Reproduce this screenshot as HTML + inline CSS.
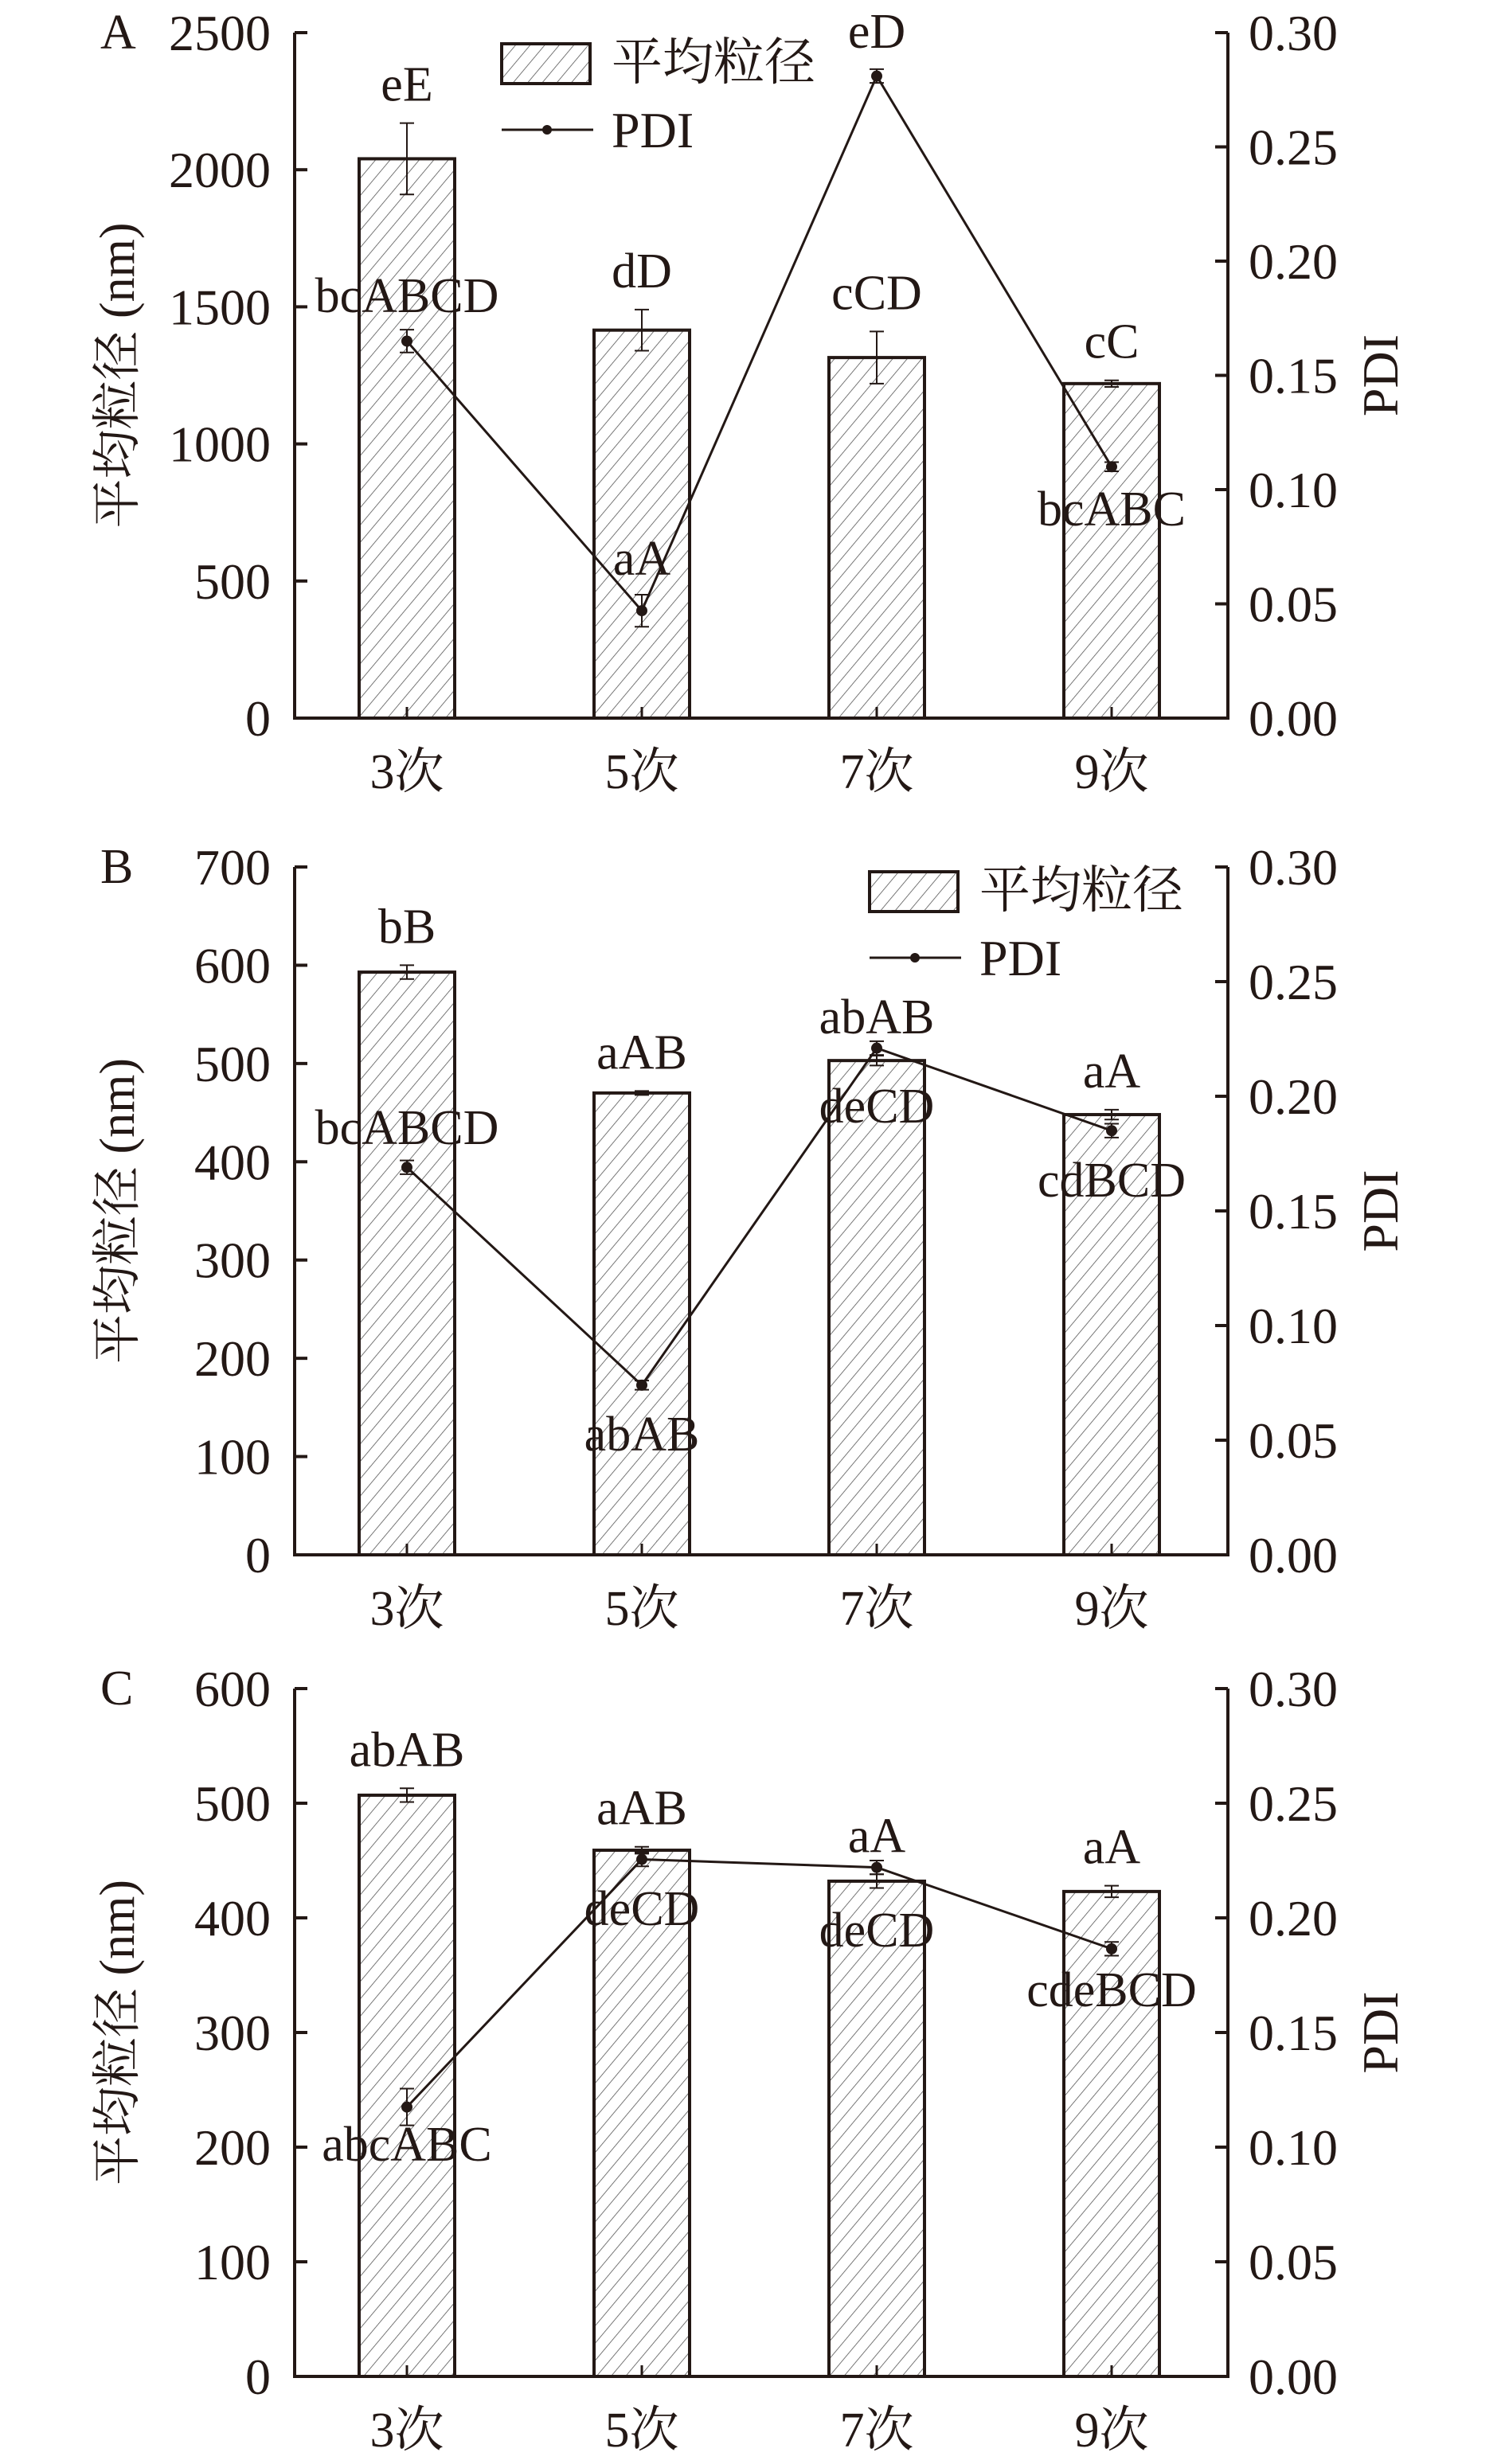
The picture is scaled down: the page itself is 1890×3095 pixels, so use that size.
<!DOCTYPE html>
<html><head><meta charset="utf-8">
<style>
html,body{margin:0;padding:0;background:#fff;}
svg{display:block;}
text{font-family:"Liberation Serif","Noto Serif CJK SC",serif;fill:#231815;}
</style></head>
<body>
<svg id="chart" width="1890" height="3095" viewBox="0 0 1890 3095" xmlns="http://www.w3.org/2000/svg">
<defs>
<pattern id="hatch" patternUnits="userSpaceOnUse" width="14" height="14" patternTransform="rotate(40)">
<line x1="0" y1="0" x2="0" y2="14" stroke="#555" stroke-width="1.6"/>
</pattern>
</defs>
</svg>
<script>
const categories = ["3次","5次","7次","9次"];
// Panel A
const sizeA = [2040,1415,1315,1220];
const sizeErrA = [130,75,95,12];
const pdiA = [0.165,0.047,0.281,0.110];
const pdiErrA = [0.005,0.007,0.003,0.002];
const sizeLabelsA = ["eE","dD","cCD","cC"];
const pdiLabelsA = ["bcABCD","aA","eD","bcABC"];
const ticksA = [0,500,1000,1500,2000,2500];
// Panel B
const sizeB = [593,470,503,448];
const sizeErrB = [7,2,5,5];
const pdiB = [0.169,0.074,0.221,0.185];
const pdiErrB = [0.003,0.002,0.003,0.003];
const sizeLabelsB = ["bB","aAB","abAB","aA"];
const pdiLabelsB = ["bcABCD","abAB","deCD","cdBCD"];
const ticksB = [0,100,200,300,400,500,600,700];
// Panel C
const sizeC = [507,459,432,423];
const sizeErrC = [6,3,6,5];
const pdiC = [0.1175,0.2255,0.222,0.1865];
const pdiErrC = [0.008,0.003,0.003,0.003];
const sizeLabelsC = ["abAB","aAB","aA","aA"];
const pdiLabelsC = ["abcABC","deCD","deCD","cdeBCD"];
const ticksC = [0,100,200,300,400,500,600];
const pdiTicks = [0,0.05,0.10,0.15,0.20,0.25,0.30];

const svg = document.getElementById('chart');
const NS = 'http://www.w3.org/2000/svg';
function mk(tag, attrs, parent){
  const e = document.createElementNS(NS, tag);
  for (const k in attrs) e.setAttribute(k, attrs[k]);
  (parent||svg).appendChild(e);
  return e;
}
function txt(str, x, y, size, anchor, parent){
  const t = mk('text', {x:x, y:y, 'font-size':size, 'text-anchor':anchor||'middle'}, parent);
  t.textContent = str;
  return t;
}
const L = 370, R = 1542, barW = 120;
function xPos(i){ return 511 + i*295; }

function panel(cfg){
  const g = mk('g', {});
  
  
  const top = cfg.top, bot = cfg.bot, max = cfg.ticks[cfg.ticks.length-1];
  const yS = v => bot - (v/max)*(bot-top);
  const yP = v => bot - (v/0.30)*(bot-top);
  // bars
  cfg.size.forEach((v,i)=>{
    const b = mk('rect', {x:xPos(i)-barW/2, y:yS(v), width:barW, height:bot-yS(v), fill:'url(#hatch)', stroke:'#231815', 'stroke-width':4}, g);
    
    
    const e1 = yS(v+cfg.sizeErr[i]), e2 = yS(v-cfg.sizeErr[i]);
    const eb = mk('path', {d:`M${xPos(i)} ${e1}V${e2}M${xPos(i)-9} ${e1}H${xPos(i)+9}M${xPos(i)-9} ${e2}H${xPos(i)+9}`, stroke:'#231815', 'stroke-width':2, fill:'none'}, g);
    
    
    const lab = txt(cfg.sizeLabels[i], xPos(i), e1 - 28 + (cfg.sizeLabelDy ? cfg.sizeLabelDy[i] : 0), 62, 'middle', g);
    
    
  });
  // PDI line
  let d = '';
  cfg.pdi.forEach((v,i)=>{ d += (i?'L':'M') + xPos(i) + ' ' + yP(v); });
  const line = mk('path', {d:d, stroke:'#231815', 'stroke-width':3, fill:'none'}, g);
  
  
  cfg.pdi.forEach((v,i)=>{
    const e1 = yP(v+cfg.pdiErr[i]), e2 = yP(v-cfg.pdiErr[i]);
    const eb = mk('path', {d:`M${xPos(i)} ${e1}V${e2}M${xPos(i)-9} ${e1}H${xPos(i)+9}M${xPos(i)-9} ${e2}H${xPos(i)+9}`, stroke:'#231815', 'stroke-width':2, fill:'none'}, g);
    
    
    const p = mk('circle', {cx:xPos(i), cy:yP(v), r:7, fill:'#231815'}, g);
    
    
    const lab = txt(cfg.pdiLabels[i], xPos(i), cfg.pdiLabelY[i], 62, 'middle', g);
    
    
  });
  // axes
  const ax = mk('path', {d:`M${L} ${top}V${bot}H${R}V${top}`, stroke:'#231815', 'stroke-width':4, fill:'none'}, g);
  
  
  cfg.ticks.forEach(v=>{
    mk('line', {x1:L, x2:L+16, y1:yS(v), y2:yS(v), stroke:'#231815', 'stroke-width':4}, g);
    const t = txt(String(v), 340, yS(v)+22, 64, 'end', g);
    
    
  });
  pdiTicks.forEach(v=>{
    mk('line', {x1:R-16, x2:R, y1:yP(v), y2:yP(v), stroke:'#231815', 'stroke-width':4}, g);
    const t = txt(v.toFixed(2), 1568, yP(v)+22, 64, 'start', g);
    
    
  });
  categories.forEach((c,i)=>{
    mk('line', {x1:xPos(i), x2:xPos(i), y1:bot, y2:bot-14, stroke:'#231815', 'stroke-width':3}, g);
    const t = txt(c, xPos(i), bot+88, 62, 'middle', g);
    
    
  });
  const pl = txt(cfg.id, 126, top+20, 62, 'start', g);
  
  
  const mid = (top+bot)/2;
  const yt = txt('平均粒径 (nm)', 0, 0, 62, 'middle', g);
  yt.setAttribute('transform', `translate(168 ${mid}) rotate(-90)`);
  
  
  const rt = txt('PDI', 0, 0, 64, 'middle', g);
  rt.setAttribute('transform', `translate(1755 ${mid}) rotate(-90)`);
  
  
  if (cfg.legend){
    const lg = mk('g', {}, g);
    
    
    const lx = cfg.legend[0], ly = cfg.legend[1];
    mk('rect', {x:lx, y:ly, width:111, height:50, fill:'url(#hatch)', stroke:'#231815', 'stroke-width':4}, lg);
    txt('平均粒径', lx+138, ly+45, 64, 'start', lg);
    mk('line', {x1:lx, x2:lx+115, y1:ly+108, y2:ly+108, stroke:'#231815', 'stroke-width':3}, lg);
    mk('circle', {cx:lx+57, cy:ly+108, r:6, fill:'#231815'}, lg);
    txt('PDI', lx+138, ly+130, 64, 'start', lg);
  }
}

panel({id:'A', top:41, bot:902, ticks:ticksA, size:sizeA, sizeErr:sizeErrA, pdi:pdiA, pdiErr:pdiErrA,
  sizeLabels:sizeLabelsA, pdiLabels:pdiLabelsA, pdiLabelY:[392,722,60,660], legend:[630,55]});
panel({id:'B', top:1089, bot:1953, ticks:ticksB, size:sizeB, sizeErr:sizeErrB, pdi:pdiB, pdiErr:pdiErrB,
  sizeLabels:sizeLabelsB, pdiLabels:pdiLabelsB, pdiLabelY:[1437,1822,1410,1503], legend:[1092,1095]});
panel({id:'C', top:2121, bot:2985, ticks:ticksC, size:sizeC, sizeErr:sizeErrC, pdi:pdiC, pdiErr:pdiErrC,
  sizeLabels:sizeLabelsC, pdiLabels:pdiLabelsC, pdiLabelY:[2714,2418,2445,2520]});
</script>
</body></html>
